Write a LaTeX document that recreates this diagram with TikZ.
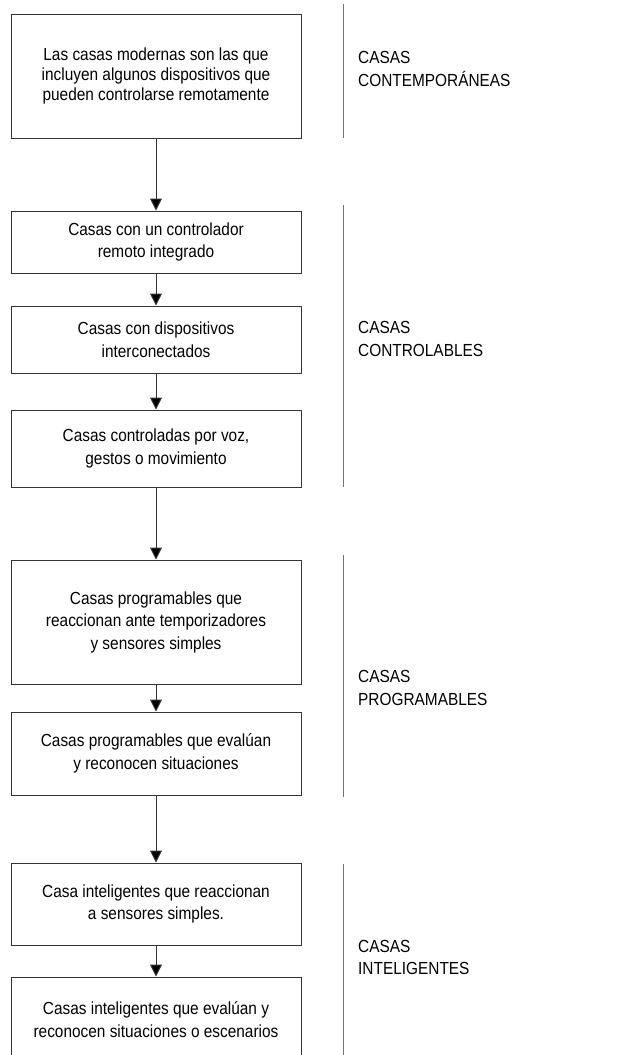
\documentclass[tikz,border=0pt]{standalone}
\usepackage{fontspec}
\setmainfont{Liberation Sans}[FakeStretch=0.88]
\usepackage{tikz}
\usetikzlibrary{arrows.meta}

\tikzset{
	caja/.style={draw=black!80, line width=1pt, rectangle, minimum width=290pt, inner sep=0pt, align=center, font=\fontsize{17.5}{22.5}\selectfont},
	etiqueta/.style={anchor=west, align=left, inner sep=0pt, font=\fontsize{17.5}{22.5}\selectfont},
	flecha/.style={-{Triangle[width=12pt,length=12pt,fill=black]}, draw=black!80, line width=1pt},
	separador/.style={draw=black!55, line width=1pt}
}

\begin{document}
\begin{tikzpicture}[x=1pt, y=-1pt]
		\clip (0,0) rectangle (630,1055);
		\begin{scope}
			% cajas
			\node[caja, minimum height=124pt, font=\fontsize{17.5}{20}\selectfont] (c1) at (156,76) {Las casas modernas son las que\\incluyen algunos dispositivos que\\pueden controlarse remotamente};
			\node[caja, minimum height=62pt] (c2) at (156,242) {Casas con un controlador\\remoto integrado};
			\node[caja, minimum height=67pt] (c3) at (156,339.5) {Casas con dispositivos\\interconectados};
			\node[caja, minimum height=77pt] (c4) at (156,448.5) {Casas controladas por voz,\\gestos o movimiento};
			\node[caja, minimum height=124pt] (c5) at (156,622) {Casas programables que\\reaccionan ante temporizadores\\y sensores simples};
			\node[caja, minimum height=83pt] (c6) at (156,753.5) {Casas programables que evalúan\\y reconocen situaciones};
			\node[caja, minimum height=82pt] (c7) at (156,904) {Casa inteligentes que reaccionan\\a sensores simples.};
			\node[caja, minimum height=85pt] (c8) at (156,1019.5) {Casas inteligentes que evalúan y\\reconocen situaciones o escenarios};

			\draw[flecha] (c1) -- (c2); % contemporaneas a controlables
			\draw[flecha] (c2) -- (c3);
			\draw[flecha] (c3) -- (c4);
			\draw[flecha] (c4) -- (c5); % controlables a programables
			\draw[flecha] (c5) -- (c6);
			\draw[flecha] (c6) -- (c7); % programables a inteligentes
			\draw[flecha] (c7) -- (c8);

			% separadores y etiquetas
			\draw[separador] (343,4) -- (343,138);
			\node[etiqueta] (e1) at (358,69) {CASAS\\CONTEMPORÁNEAS};

			\draw[separador] (343,205) -- (343,487);
			\node[etiqueta] (e2) at (358,339) {CASAS\\CONTROLABLES};

			\draw[separador] (343,555) -- (343,797);
			\node[etiqueta] (e3) at (358,688) {CASAS\\PROGRAMABLES};

			\draw[separador] (343,864) -- (343,1060);
			\node[etiqueta] (e4) at (358,957.5) {CASAS\\INTELIGENTES};
		\end{scope}
	\end{tikzpicture}
\end{document}
